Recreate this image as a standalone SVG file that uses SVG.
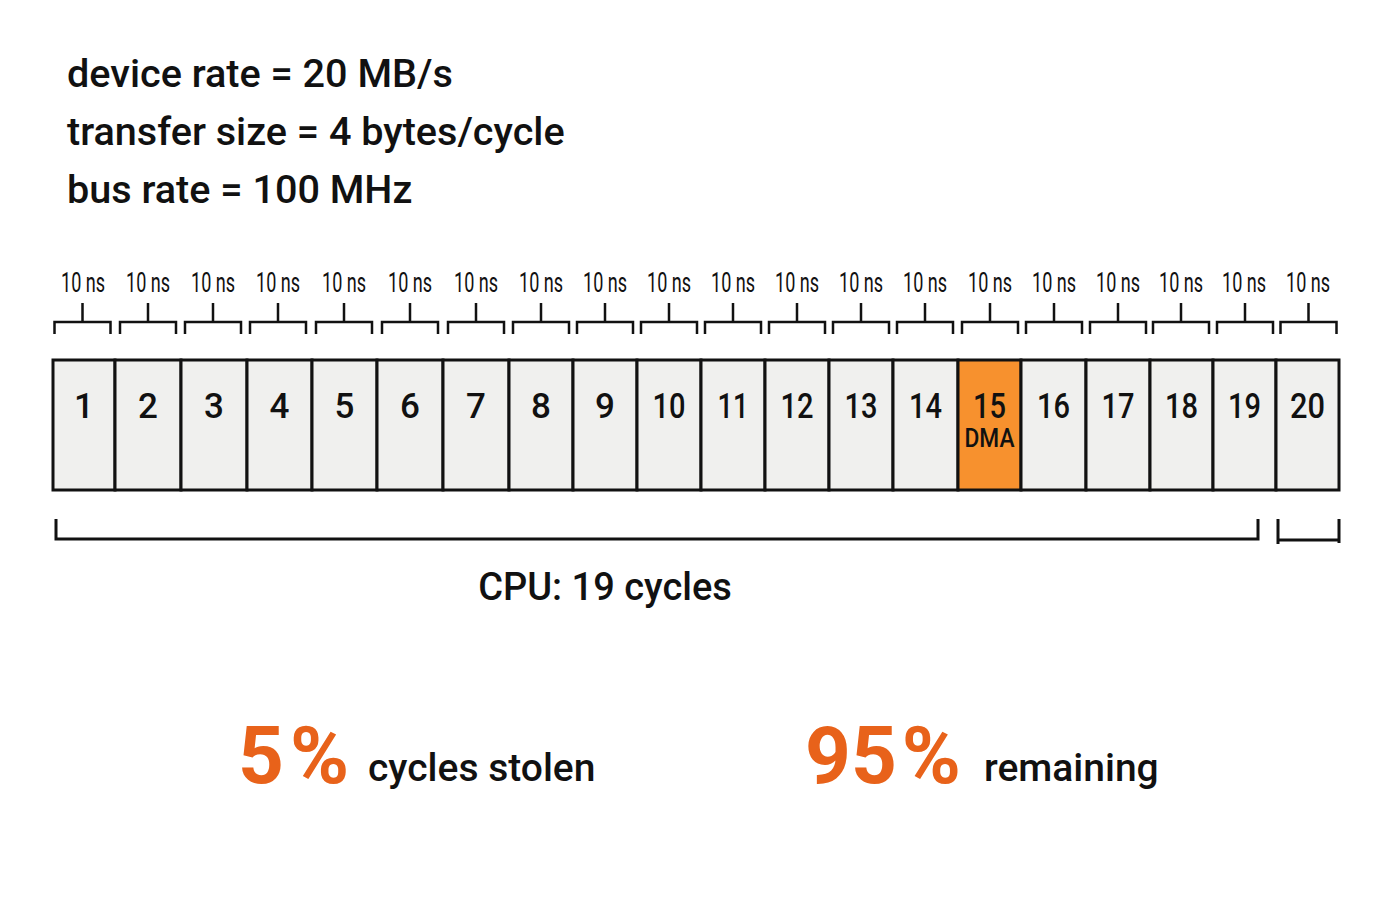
<svg xmlns="http://www.w3.org/2000/svg" width="1400" height="900" viewBox="0 0 1400 900">
<style>
.t{font-family:Roboto,"Liberation Sans",Arial,sans-serif;font-weight:500;fill:#111}
.hdr{font-size:39.6px}
.ns{font-size:27px;font-weight:400;text-anchor:middle}
.num{font-size:35px;text-anchor:middle}
.cell{fill:#f0f0ee;stroke:#111;stroke-width:3}
.dma{fill:#f7912e;stroke:#111;stroke-width:3}
.br{fill:none;stroke:#111;stroke-width:2.5}
.bb{fill:none;stroke:#111;stroke-width:3}
.pct{font-family:Roboto,"Liberation Sans",Arial,sans-serif;font-weight:700;fill:#e8621a;font-size:80px}
.lbl{font-size:39px}
</style>
<defs>
<path id="tick" class="br" d="M-28,334 V322 H28 V334 M0,322 V303"/>
</defs>
<rect width="1400" height="900" fill="#ffffff"/>
<g id="params">
<text class="t hdr" x="67" y="87">device rate = 20 MB/s</text>
<text class="t hdr" x="67" y="145">transfer size = 4 bytes/cycle</text>
<text class="t hdr" x="67" y="203">bus rate = 100 MHz</text>
</g>
<g id="cells">
<g id="c1"><rect class="cell" x="53" y="360" width="62" height="130"/><text class="t num" x="84" y="418">1</text></g>
<g id="c2"><rect class="cell" x="115" y="360" width="66" height="130"/><text class="t num" x="148" y="418">2</text></g>
<g id="c3"><rect class="cell" x="181" y="360" width="66" height="130"/><text class="t num" x="214" y="418">3</text></g>
<g id="c4"><rect class="cell" x="247" y="360" width="65" height="130"/><text class="t num" x="279.5" y="418">4</text></g>
<g id="c5"><rect class="cell" x="312" y="360" width="65" height="130"/><text class="t num" x="344.5" y="418">5</text></g>
<g id="c6"><rect class="cell" x="377" y="360" width="66" height="130"/><text class="t num" x="410" y="418">6</text></g>
<g id="c7"><rect class="cell" x="443" y="360" width="66" height="130"/><text class="t num" x="476" y="418">7</text></g>
<g id="c8"><rect class="cell" x="509" y="360" width="64" height="130"/><text class="t num" x="541" y="418">8</text></g>
<g id="c9"><rect class="cell" x="573" y="360" width="64" height="130"/><text class="t num" x="605" y="418">9</text></g>
<g id="c10"><rect class="cell" x="637" y="360" width="64" height="130"/><text class="t num" x="669" y="418" textLength="33" lengthAdjust="spacingAndGlyphs">10</text></g>
<g id="c11"><rect class="cell" x="701" y="360" width="64" height="130"/><text class="t num" x="733" y="418" textLength="31" lengthAdjust="spacingAndGlyphs">11</text></g>
<g id="c12"><rect class="cell" x="765" y="360" width="64" height="130"/><text class="t num" x="797" y="418" textLength="33" lengthAdjust="spacingAndGlyphs">12</text></g>
<g id="c13"><rect class="cell" x="829" y="360" width="64" height="130"/><text class="t num" x="861" y="418" textLength="33" lengthAdjust="spacingAndGlyphs">13</text></g>
<g id="c14"><rect class="cell" x="893" y="360" width="65" height="130"/><text class="t num" x="925.5" y="418" textLength="33" lengthAdjust="spacingAndGlyphs">14</text></g>
<g id="c15"><rect class="dma" x="958" y="360" width="63" height="130"/><text class="t num" x="989.5" y="418" textLength="33" lengthAdjust="spacingAndGlyphs">15</text><text class="t" x="989.5" y="447" font-size="26" text-anchor="middle" textLength="50" lengthAdjust="spacingAndGlyphs">DMA</text></g>
<g id="c16"><rect class="cell" x="1021" y="360" width="65" height="130"/><text class="t num" x="1053.5" y="418" textLength="33" lengthAdjust="spacingAndGlyphs">16</text></g>
<g id="c17"><rect class="cell" x="1086" y="360" width="64" height="130"/><text class="t num" x="1118" y="418" textLength="33" lengthAdjust="spacingAndGlyphs">17</text></g>
<g id="c18"><rect class="cell" x="1150" y="360" width="63" height="130"/><text class="t num" x="1181.5" y="418" textLength="33" lengthAdjust="spacingAndGlyphs">18</text></g>
<g id="c19"><rect class="cell" x="1213" y="360" width="63" height="130"/><text class="t num" x="1244.5" y="418" textLength="33" lengthAdjust="spacingAndGlyphs">19</text></g>
<g id="c20"><rect class="cell" x="1276" y="360" width="63" height="130"/><text class="t num" x="1307.5" y="418" textLength="35" lengthAdjust="spacingAndGlyphs">20</text></g>
</g>
<g id="time-labels">
<text class="t ns" x="83" y="292" textLength="44" lengthAdjust="spacingAndGlyphs">10 ns</text>
<text class="t ns" x="148" y="292" textLength="44" lengthAdjust="spacingAndGlyphs">10 ns</text>
<text class="t ns" x="213" y="292" textLength="44" lengthAdjust="spacingAndGlyphs">10 ns</text>
<text class="t ns" x="278" y="292" textLength="44" lengthAdjust="spacingAndGlyphs">10 ns</text>
<text class="t ns" x="344" y="292" textLength="44" lengthAdjust="spacingAndGlyphs">10 ns</text>
<text class="t ns" x="410" y="292" textLength="44" lengthAdjust="spacingAndGlyphs">10 ns</text>
<text class="t ns" x="476" y="292" textLength="44" lengthAdjust="spacingAndGlyphs">10 ns</text>
<text class="t ns" x="541" y="292" textLength="44" lengthAdjust="spacingAndGlyphs">10 ns</text>
<text class="t ns" x="605" y="292" textLength="44" lengthAdjust="spacingAndGlyphs">10 ns</text>
<text class="t ns" x="669" y="292" textLength="44" lengthAdjust="spacingAndGlyphs">10 ns</text>
<text class="t ns" x="733" y="292" textLength="44" lengthAdjust="spacingAndGlyphs">10 ns</text>
<text class="t ns" x="797" y="292" textLength="44" lengthAdjust="spacingAndGlyphs">10 ns</text>
<text class="t ns" x="861" y="292" textLength="44" lengthAdjust="spacingAndGlyphs">10 ns</text>
<text class="t ns" x="925" y="292" textLength="44" lengthAdjust="spacingAndGlyphs">10 ns</text>
<text class="t ns" x="990" y="292" textLength="44" lengthAdjust="spacingAndGlyphs">10 ns</text>
<text class="t ns" x="1054" y="292" textLength="44" lengthAdjust="spacingAndGlyphs">10 ns</text>
<text class="t ns" x="1118" y="292" textLength="44" lengthAdjust="spacingAndGlyphs">10 ns</text>
<text class="t ns" x="1181" y="292" textLength="44" lengthAdjust="spacingAndGlyphs">10 ns</text>
<text class="t ns" x="1244" y="292" textLength="44" lengthAdjust="spacingAndGlyphs">10 ns</text>
<text class="t ns" x="1308" y="292" textLength="44" lengthAdjust="spacingAndGlyphs">10 ns</text>
</g>
<g id="connectors">
<use href="#tick" x="82.5"/>
<use href="#tick" x="148"/>
<use href="#tick" x="213"/>
<use href="#tick" x="278"/>
<use href="#tick" x="344"/>
<use href="#tick" x="410"/>
<use href="#tick" x="476"/>
<use href="#tick" x="541"/>
<use href="#tick" x="605"/>
<use href="#tick" x="669"/>
<use href="#tick" x="733"/>
<use href="#tick" x="797"/>
<use href="#tick" x="861"/>
<use href="#tick" x="925"/>
<use href="#tick" x="990"/>
<use href="#tick" x="1054"/>
<use href="#tick" x="1118"/>
<use href="#tick" x="1181"/>
<use href="#tick" x="1245"/>
<use href="#tick" x="1308.5"/>
<path class="bb" d="M56,519 V539 H1258 V519"/>
<path class="bb" d="M1278,519 V544 M1278,540 H1339 M1339,519 V543"/>
</g>
<g id="cpu-label">
<text class="t" x="605" y="600" font-size="38" text-anchor="middle">CPU: 19 cycles</text>
</g>
<g id="stolen">
<text class="pct" x="238" y="783">5<tspan dx="6">%</tspan></text>
<text class="t lbl" x="368" y="781">cycles stolen</text>
</g>
<g id="remaining">
<text class="pct" x="805" y="783">95<tspan dx="5">%</tspan></text>
<text class="t lbl" x="984" y="781">remaining</text>
</g>
</svg>
